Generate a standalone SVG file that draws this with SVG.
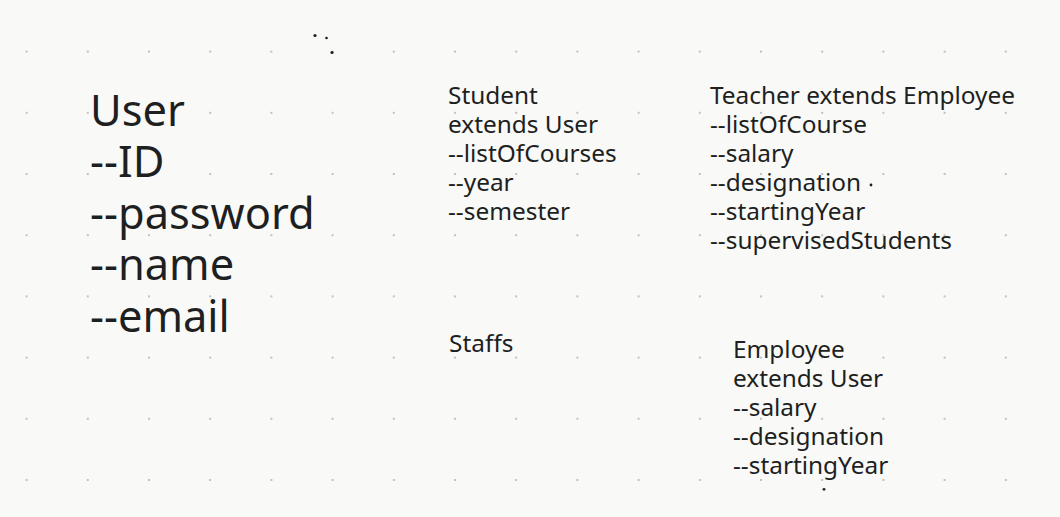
<svg xmlns="http://www.w3.org/2000/svg" width="1060" height="517" viewBox="0 0 1060 517">
  <defs>
    <pattern id="grid" x="26.6" y="51.6" width="61.2" height="61.2" patternUnits="userSpaceOnUse">
      <circle cx="0" cy="0" r="1.1" fill="#b4b4b4"/>
      <circle cx="61.2" cy="0" r="1.1" fill="#b4b4b4"/>
      <circle cx="0" cy="61.2" r="1.1" fill="#b4b4b4"/>
      <circle cx="61.2" cy="61.2" r="1.1" fill="#b4b4b4"/>
    </pattern>
  </defs>
  <style>
    text { font-family: "Noto Sans", "Open Sans", sans-serif; fill: #1d1f21; }
    .big { font-size: 43.4px; }
    .med { font-size: 24.4px; }
    .speck { fill: #1d1f21; }
  </style>
  <rect width="1060" height="517" fill="#f9f9f8"/>
  <rect width="1060" height="517" fill="url(#grid)"/>
  <g id="specks">
    <circle class="speck" cx="315" cy="35.5" r="1.6"/>
    <circle class="speck" cx="326.5" cy="38" r="1.3"/>
    <circle class="speck" cx="332" cy="52.5" r="1.6"/>
    <circle class="speck" cx="871" cy="185" r="1.4"/>
    <circle class="speck" cx="824" cy="489.3" r="1.4"/>
  </g>
  <g id="user">
    <text class="big">
      <tspan x="90" y="126">User</tspan>
      <tspan x="90" y="177.4">--ID</tspan>
      <tspan x="90" y="228.8">--password</tspan>
      <tspan x="90" y="280.2">--name</tspan>
      <tspan x="90" y="331.6">--email</tspan>
    </text>
  </g>
  <g id="student">
    <text class="med">
      <tspan x="448" y="103.5">Student</tspan>
      <tspan x="448" y="132.5">extends User</tspan>
      <tspan x="448" y="161.5">--listOfCourses</tspan>
      <tspan x="448" y="190.5">--year</tspan>
      <tspan x="448" y="219.5">--semester</tspan>
    </text>
  </g>
  <g id="teacher">
    <text class="med">
      <tspan x="710" y="103.5">Teacher extends Employee</tspan>
      <tspan x="710" y="132.5">--listOfCourse</tspan>
      <tspan x="710" y="161.5">--salary</tspan>
      <tspan x="710" y="190.5">--designation</tspan>
      <tspan x="710" y="219.5">--startingYear</tspan>
      <tspan x="710" y="248.5">--supervisedStudents</tspan>
    </text>
  </g>
  <g id="staffs">
    <text class="med" x="449" y="352">Staffs</text>
  </g>
  <g id="employee">
    <text class="med">
      <tspan x="733" y="358">Employee</tspan>
      <tspan x="733" y="387">extends User</tspan>
      <tspan x="733" y="416">--salary</tspan>
      <tspan x="733" y="445">--designation</tspan>
      <tspan x="733" y="474">--startingYear</tspan>
    </text>
  </g>
  <g id="connectors"/>
</svg>
